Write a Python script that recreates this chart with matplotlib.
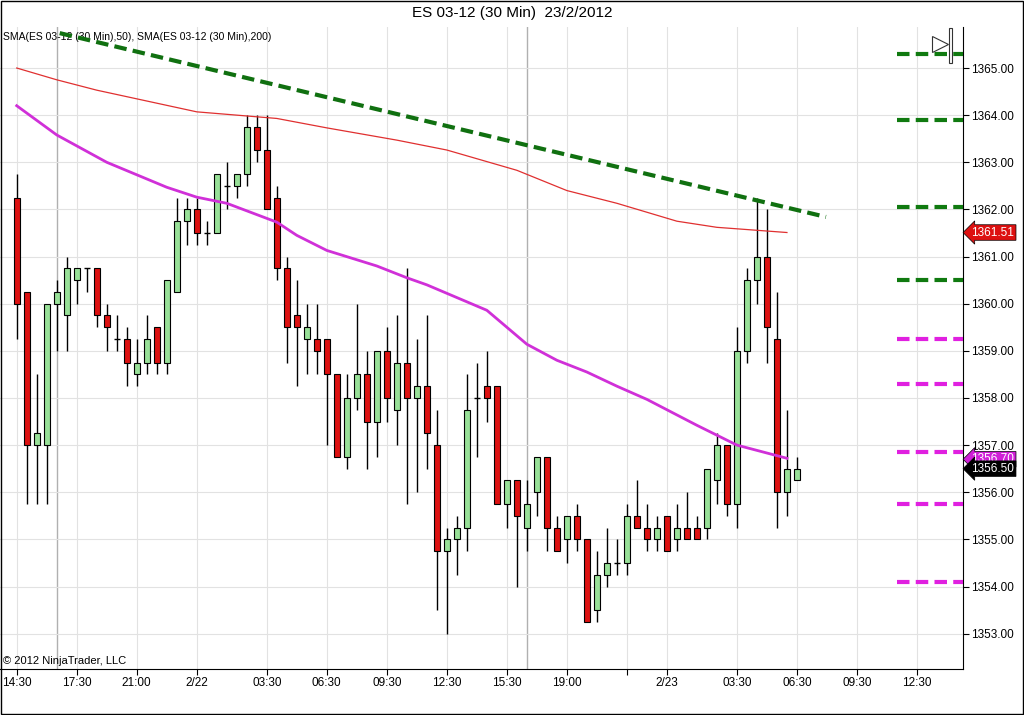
import matplotlib
matplotlib.use("Agg")
import matplotlib.pyplot as plt
from matplotlib.patches import Rectangle
import numpy as np

opens = [1362.25,1360.25,1357.0,1357.0,1360.0,1359.75,1360.5,1360.75,1360.75,1359.75,
         1359.25,1359.25,1358.5,1358.75,1359.5,1358.75,1360.25,1361.75,1362.0,1361.5,
         1361.5,1362.5,1362.5,1362.75,1363.75,1363.25,1362.25,1360.75,1359.75,1359.25,
         1359.25,1359.25,1358.5,1356.75,1358.0,1358.5,1357.5,1359.0,1357.75,1358.75,
         1358.0,1358.25,1357.0,1354.75,1355.0,1355.25,1358.0,1358.25,1358.25,1355.75,
         1356.25,1355.25,1356.0,1356.75,1355.25,1355.0,1355.5,1355.0,1353.5,1354.25,
         1354.5,1354.5,1355.5,1355.25,1355.0,1355.5,1355.0,1355.25,1355.25,1355.25,
         1356.25,1357.0,1355.75,1359.0,1360.5,1361.0,1359.25,1356.0,1356.25]
closes = [1360.0,1357.0,1357.25,1360.0,1360.25,1360.75,1360.75,1360.75,1359.75,1359.5,
          1359.25,1358.75,1358.75,1359.25,1358.75,1360.5,1361.75,1362.0,1361.5,1361.5,
          1362.75,1362.5,1362.75,1363.75,1363.25,1362.0,1360.75,1359.5,1359.5,1359.5,
          1359.0,1358.5,1356.75,1358.0,1358.5,1357.5,1359.0,1358.0,1358.75,1358.0,
          1358.25,1357.25,1354.75,1355.0,1355.25,1357.75,1358.0,1358.0,1355.75,1356.25,
          1355.5,1355.75,1356.75,1355.25,1354.75,1355.5,1355.0,1353.25,1354.25,1354.5,
          1354.5,1355.5,1355.25,1355.0,1355.25,1354.75,1355.25,1355.0,1355.0,1356.5,
          1357.0,1355.75,1359.0,1360.5,1361.0,1359.5,1356.0,1356.5,1356.5]
highs = [1362.75,1360.25,1358.5,1360.0,1360.5,1361.0,1360.75,1360.75,1360.75,1360.0,
         1359.75,1359.5,1359.25,1359.75,1359.5,1360.5,1362.25,1362.25,1362.25,1361.75,
         1362.75,1363.0,1362.75,1364.0,1364.0,1364.0,1362.5,1361.0,1360.5,1360.0,
         1360.0,1359.25,1358.5,1358.5,1360.0,1359.0,1359.0,1359.5,1359.75,1360.75,
         1359.25,1359.75,1357.75,1355.25,1355.5,1358.5,1358.75,1359.0,1358.25,1356.25,
         1356.25,1356.25,1356.75,1356.75,1355.5,1355.5,1355.75,1355.0,1354.75,1355.25,
         1355.0,1355.75,1356.25,1355.75,1355.5,1355.5,1355.75,1356.0,1355.5,1356.5,
         1357.25,1357.0,1359.5,1360.75,1362.25,1362.0,1360.25,1357.75,1356.75]
lows = [1359.25,1355.75,1355.75,1355.75,1359.0,1359.0,1360.0,1360.25,1359.5,1359.0,
        1359.0,1358.25,1358.25,1358.5,1358.5,1358.5,1360.25,1361.25,1361.25,1361.25,
        1361.5,1362.0,1362.25,1362.5,1363.0,1362.0,1360.5,1358.75,1358.25,1358.5,
        1358.5,1357.0,1356.75,1356.5,1357.75,1356.5,1356.75,1357.5,1357.0,1355.75,
        1356.0,1356.5,1353.5,1353.0,1354.25,1354.75,1356.75,1357.5,1355.75,1355.25,
        1354.0,1354.75,1355.5,1354.75,1354.75,1354.5,1354.75,1353.25,1353.25,1354.0,
        1354.25,1354.25,1355.25,1354.75,1354.75,1354.75,1354.75,1355.0,1355.0,1355.0,
        1355.75,1355.5,1355.25,1358.75,1360.0,1358.75,1355.25,1355.5,1356.25]

sma50_bars = [0,4,9,15,18,21,26,28,31,36,39,41,47,51,54,57,60,63,68,72,77]
sma50_vals = [1364.2,1363.58,1363.0,1362.47,1362.26,1362.13,1361.73,1361.45,1361.13,1360.8,
              1360.55,1360.4,1359.86,1359.14,1358.8,1358.55,1358.25,1357.97,1357.42,1357.0,1356.72]
sma200_bars = [0,4,8,13,18,22,26,31,38,43,50,55,60,66,70,77]
sma200_vals = [1365.0,1364.75,1364.53,1364.3,1364.07,1364.0,1363.93,1363.73,1363.47,1363.26,
               1362.83,1362.4,1362.13,1361.75,1361.62,1361.51]

trend_bars = [4.3, 80.9]
trend_vals = [1365.74, 1361.84]
green_levels = [1365.3, 1363.9, 1362.05, 1360.5]
magenta_levels = [1359.25, 1358.3, 1356.86, 1355.75, 1354.1]

tick_pos = [0, 6, 12, 18, 25, 31, 37, 43, 49, 55, 61, 65, 72, 78, 84, 90]
tick_labels = ["14:30","17:30","21:00","2/22","03:30","06:30","09:30","12:30",
               "15:30","19:00","","2/23","03:30","06:30","09:30","12:30"]
session_breaks = [4, 51]

fig = plt.figure(figsize=(10.24, 7.15), dpi=100)
ax = fig.add_axes([0.0, 1-669/715, 963/1024, (669-27)/715])
ax.set_xlim(-1.67, 94.6)
ax.set_ylim(1352.25, 1365.87)

ax.set_yticks(np.arange(1353, 1366, 1))
ax.set_yticklabels([f"{v:.2f}" for v in np.arange(1353, 1366, 1)], fontsize=8.5, family="Liberation Sans")
ax.yaxis.tick_right()
ax.set_xticks(tick_pos)
ax.set_xticklabels(tick_labels, fontsize=8.5, family="Liberation Sans")
ax.tick_params(direction="out", length=4, width=0.8, pad=2)
ax.grid(True, color="#e2e2e2", lw=0.8)
ax.set_axisbelow(True)
for s in ["top", "left"]:
    ax.spines[s].set_visible(False)
for b in session_breaks:
    ax.axvline(b, color="#b0b0b0", lw=1, zorder=0.5)

w = 0.6
for i, (o, h, l, c) in enumerate(zip(opens, highs, lows, closes)):
    ax.vlines(i, l, h, color="black", lw=1, zorder=2)
    if o == c:
        ax.hlines(o, i - w/2, i + w/2, color="black", lw=1, zorder=3)
    else:
        col = "#98e098" if c > o else "#dd1111"
        ax.add_patch(Rectangle((i - w/2, min(o, c)), w, abs(c - o), facecolor=col,
                               edgecolor="black", lw=0.8, zorder=3))

ax.plot(sma200_bars, sma200_vals, color="#e03030", lw=0.9, zorder=4)
ax.plot(sma50_bars, sma50_vals, color="#d030d8", lw=2, zorder=4)
ax.plot(trend_bars, trend_vals, color="#107010", lw=3, ls=(0, (3, 1.5)), zorder=5)
for v in green_levels:
    ax.hlines(v, 88, 94.6, color="#107a10", lw=3, linestyles=(0, (3, 1.5)), zorder=5)
for v in magenta_levels:
    ax.hlines(v, 88, 94.6, color="#e020e0", lw=3, linestyles=(0, (3, 1.5)), zorder=5)

# scroll-to-end icon
ax.plot([92.3], [1365.5], marker=">", ms=11, mfc="white", mec="#333333", mew=0.8,
        zorder=6, clip_on=False)
ax.add_patch(Rectangle((93.2, 1365.1), 0.3, 0.75, fc="white", ec="#333333", lw=0.8,
                       zorder=6, clip_on=False))

def flag(val, txt, fc):
    ax.annotate(txt, xy=(1.0, val), xycoords=("axes fraction", "data"), xytext=(6, 0),
                textcoords="offset points", va="center", ha="left", fontsize=8.5,
                color="white", family="Liberation Sans", annotation_clip=False,
                bbox=dict(boxstyle="larrow,pad=0.15", fc=fc, ec="black", lw=0.5))
flag(1361.51, "1361.51", "#dd1111")
flag(1356.70, "1356.70", "#d020d8")
flag(1356.50, "1356.50", "black")

fig.text(0.5, 1-13/715, "ES 03-12 (30 Min)  23/2/2012", ha="center", va="center",
         fontsize=11, family="Liberation Sans")
ax.text(0.003, 0.992, "SMA(ES 03-12 (30 Min),50), SMA(ES 03-12 (30 Min),200)",
        transform=ax.transAxes, fontsize=7.5, va="top", family="Liberation Sans")
ax.text(0.003, 0.005, "© 2012 NinjaTrader, LLC", transform=ax.transAxes, fontsize=8,
        va="bottom", family="Liberation Sans")
fig.add_artist(Rectangle((0.001, 0.001), 0.998, 0.998, transform=fig.transFigure,
                         fill=False, ec="black", lw=1))
fig.savefig("out.png", dpi=100)
